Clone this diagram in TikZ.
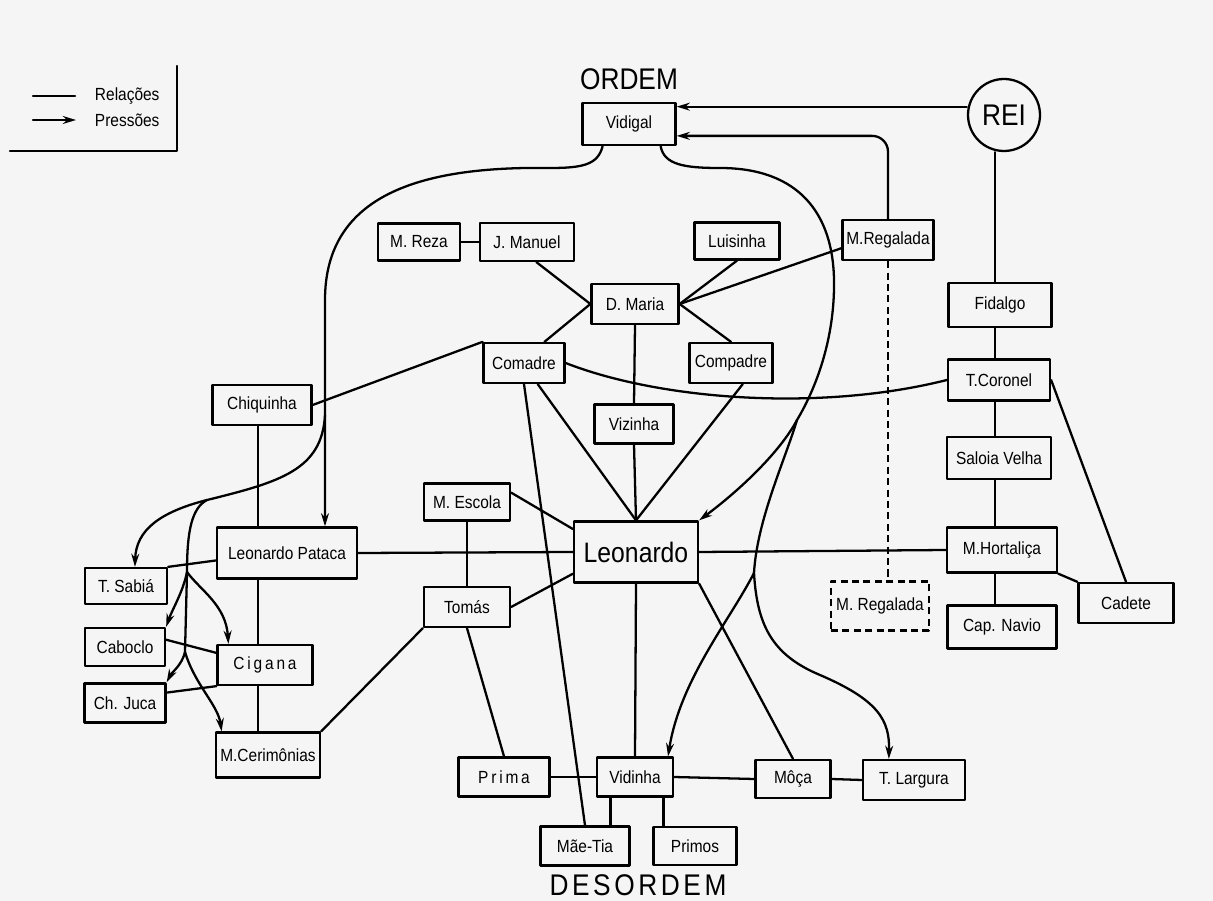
\documentclass[tikz,border=0pt]{standalone}
\usepackage{fontspec}
\setmainfont{Liberation Sans}[FakeStretch=0.88]
\usetikzlibrary{arrows.meta}
\begin{document}
\begin{tikzpicture}[x=0.02cm,y=-0.02cm,>={Stealth[length=7.5pt,width=4.5pt]},line join=round,line cap=round,line width=1.3pt,
	font=\fontsize{10}{12}\selectfont,
	hop/.style 2 args={draw,inner sep=1pt,minimum width=#1*0.02cm,minimum height=#2*0.02cm},
	gian/.style={font=\fontsize{10}{12}\selectfont\addfontfeature{LetterSpace=16}},
	titulo/.style={font=\fontsize{17}{20}\selectfont},
	press/.style={->},
	net/.style={dash pattern=on 4pt off 2.5pt,line cap=butt}]
	\path[use as bounding box,fill=black!4] (0,0) rectangle (1213,901);
	% legenda
	\draw (10,151) -| (177,66);
	\node[anchor=west] (rel) at (88,96) {Relações};
	\node[anchor=west] (pres) at (88,120) {Pressões};
	\draw (rel.west) ++(-55,0) -- ++(42,0);
	\draw[press] (pres.west) ++(-55,0) -- ++(43,0);
	% nos
	\node[titulo] (ordem) at (629,79) {ORDEM};
	\node[titulo,font=\fontsize{17}{20}\selectfont\addfontfeature{LetterSpace=12}] (desordem) at (638,885) {DESORDEM};
	\node[draw,circle,minimum size=72*0.02cm,inner sep=0pt,titulo] (rei) at (1004,115) {REI};
	\node[hop={93}{42}] (vidigal) at (629,124) {Vidigal};
	\node[hop={82}{37}] (mreza) at (419,242) {M. Reza};
	\node[hop={94}{38}] (jmanuel) at (527,242) {J. Manuel};
	\node[hop={85}{37}] (luisinha) at (737,241) {Luisinha};
	\node[hop={91}{40}] (mregalada) at (888,240) {M.Regalada};
	\node[hop={87}{40}] (dmaria) at (635,304) {D. Maria};
	\node[hop={103}{44}] (fidalgo) at (1000,305) {Fidalgo};
	\node[hop={81}{40}] (comadre) at (524,363) {Comadre};
	\node[hop={83}{40}] (compadre) at (731,363) {Compadre};
	\node[hop={102}{41}] (tcoronel) at (999,380) {T.Coronel};
	\node[hop={99}{40}] (chiquinha) at (262,405) {Chiquinha};
	\node[hop={79}{39}] (vizinha) at (634,424) {Vizinha};
	\node[hop={104}{42}] (saloia) at (999,458) {Saloia Velha};
	\node[hop={86}{37}] (mescola) at (467,502) {M. Escola};
	\node[hop={124}{61},font=\fontsize{16}{18}\selectfont] (leonardo) at (636,552) {Leonardo};
	\node[hop={140}{51}] (lpataca) at (287,553) {Leonardo Pataca};
	\node[hop={110}{45}] (mhortalica) at (1002,550) {M.Hortaliça};
	\node[hop={98}{49},net] (mregalada2) at (880,606) {M. Regalada};
	\node[hop={95}{40}] (cadete) at (1126,603) {Cadete};
	\node[hop={109}{43}] (capnavio) at (1002,627) {Cap. Navio};
	\node[hop={82}{36}] (tsabia) at (126,586) {T. Sabiá};
	\node[hop={86}{40}] (tomas) at (467,607) {Tomás};
	\node[hop={80}{38}] (caboclo) at (125,647) {Caboclo};
	\node[hop={95}{40},gian] (cigana) at (265,665) {Cigana};
	\node[hop={81}{39}] (chjuca) at (125,703) {Ch. Juca};
	\node[hop={104}{45}] (mcerimonias) at (268,755) {M.Cerimônias};
	\node[hop={91}{39},gian] (prima) at (504,777) {Prima};
	\node[hop={76}{39}] (vidinha) at (635,777) {Vidinha};
	\node[hop={75}{38}] (moca) at (793,779) {Môça};
	\node[hop={102}{40}] (tlargura) at (914,780) {T. Largura};
	\node[hop={89}{39}] (maetia) at (585,846) {Mãe-Tia};
	\node[hop={83}{38}] (primos) at (695,846) {Primos};
	\coordinate (lcol) at (258,0);
	\coordinate (rcol) at (995,0);
	\coordinate (lbr) at (325,415);
	\coordinate (lsplit) at (207,500);
	\coordinate (csplit1) at (187,572);
	\coordinate (csplit2) at (185,652);
	\coordinate (rsplit1) at (797,420);
	\coordinate (rsplit2) at (754,573);
	% relacoes
	\foreach \a/\b in {mreza.east/jmanuel.west,jmanuel.-65/dmaria.west,luisinha.south/dmaria.east,mregalada.190/dmaria.east,
		dmaria.east/compadre.north,dmaria.west/comadre.46,dmaria.south/vizinha.north,vizinha.south/leonardo.north,
		comadre.-57/leonardo.north,compadre.-61/leonardo.north,comadre.south/maetia.north,comadre.153/chiquinha.east,
		lpataca.east/leonardo.west,lpataca.186/tsabia.north east,caboclo.10/cigana.166,chjuca.14/cigana.south west,
		tomas.south west/mcerimonias.north east,mescola.south/tomas.north,mescola.12/leonardo.160,tomas.east/leonardo.199,
		tomas.south/prima.north,leonardo.south/vidinha.north,leonardo.south east/moca.north,leonardo.east/mhortalica.west,
		prima.east/vidinha.west,vidinha.east/moca.west,moca.east/tlargura.west,tcoronel.east/cadete.north,
		mhortalica.south east/cadete.north west}
	{\draw (\a)--(\b);}
	\draw (chiquinha.south -| lcol)--(lpataca.north -| lcol) (lpataca.south -| lcol)--(cigana.north -| lcol) (cigana.south -| lcol)--(mcerimonias.north -| lcol);
	\draw (rei.south -| rcol)--(fidalgo.north -| rcol) (fidalgo.south -| rcol)--(tcoronel.north -| rcol) (tcoronel.south -| rcol)--(saloia.north -| rcol) (saloia.south -| rcol)--(mhortalica.north -| rcol) (mhortalica.south -| rcol)--(capnavio.north -| rcol);
	\draw (vidinha.-140)--(maetia.north -| vidinha.-140) (vidinha.-36)--(primos.north -| vidinha.-36);
	\draw (comadre.east) .. controls (660,400) and (820,412) .. (tcoronel.west);
	\draw[net] (mregalada.south)--(mregalada.south |- mregalada2.north); % tracejado
	% pressoes
	\draw[press] (vidigal.20 -| rei.west)--(vidigal.20);
	\draw[press,rounded corners=9pt] (mregalada.north) |- (vidigal.-14);
	\draw[press] (vidigal.-140) .. controls (598,165) and (582,168) .. (550,168) .. controls (420,166) and (325,195) .. (325,300)--(lbr)--(lpataca.north -| lbr);
	\draw (lbr) .. controls (322,470) and (280,482) .. (lsplit) .. controls (192,508) and (187,530) .. (csplit1)--(csplit2);
	\draw[press] (lsplit) .. controls (160,512) and (136,530) .. (tsabia.65);
	\draw[press] (csplit1) .. controls (183,592) and (172,610) .. (caboclo.north east);
	\draw[press] (csplit1) .. controls (200,590) and (226,605) .. (cigana.150);
	\draw[press] (csplit2) .. controls (182,665) and (172,672) .. (chjuca.north east);
	\draw[press] (csplit2) .. controls (195,685) and (218,705) .. (mcerimonias.153);
	\draw (vidigal.-35) .. controls (664,165) and (685,168) .. (720,168) .. controls (800,168) and (833,215) .. (834,280) .. controls (835,340) and (815,390) .. (rsplit1) .. controls (785,460) and (757,520) .. (rsplit2);
	\draw[press] (rsplit1) .. controls (780,452) and (740,490) .. (leonardo.north east);
	\draw[press] (rsplit2) .. controls (730,620) and (680,680) .. (vidinha.32);
	\draw[press] (rsplit2) .. controls (757,625) and (772,655) .. (820,675) .. controls (878,700) and (890,720) .. (tlargura.140);
\end{tikzpicture}
\end{document}
